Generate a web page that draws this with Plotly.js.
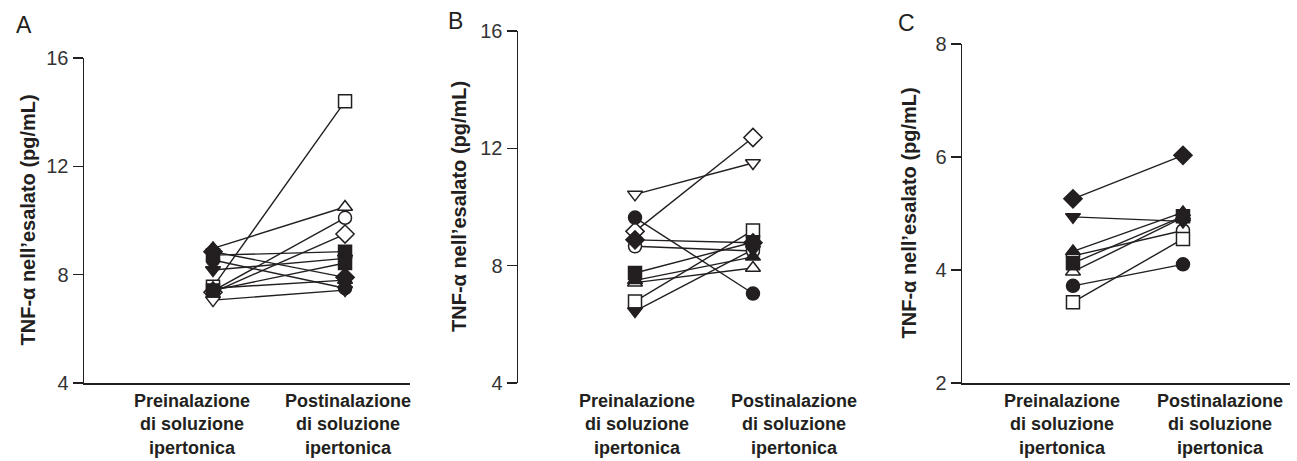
<!DOCTYPE html>
<html>
<head>
<meta charset="utf-8">
<script src="https://cdn.plot.ly/plotly-3.0.1.min.js"></script>
<style>
html,body{margin:0;padding:0;background:#fff;}
#chart{width:1297px;height:461px;}
</style>
</head>
<body>
<div id="chart"></div>
<script>
// ---- Data ----
const categories = ['Preinalazione<br>di soluzione<br>ipertonica', 'Postinalazione<br>di soluzione<br>ipertonica'];
const yTitle = 'TNF-α nell’esalato (pg/mL)';
const panelLetters = ['A', 'B', 'C'];

// Panel A
const symbolsA = ['square','triangle-up','circle','diamond','square','triangle-down','circle','triangle-up','diamond','triangle-down','square'];
const filledA  = [false, false, false, false, true, true, true, true, true, false, true];
const preA     = [7.55, 8.97, 7.40, 7.35, 8.72, 8.17, 8.54, 7.50, 8.85, 7.06, 7.42];
const postA    = [14.4, 10.5, 10.1, 9.5, 8.85, 8.6, 7.5, 7.8, 7.9, 7.43, 8.43];
const ticksA   = [4, 8, 12, 16];

// Panel B
const symbolsB = ['triangle-down','circle','diamond','diamond','circle','square','triangle-up','triangle-up','square','triangle-down'];
const filledB  = [false, true, false, true, false, true, true, false, false, true];
const preB     = [10.43, 9.64, 9.17, 8.88, 8.66, 7.75, 7.50, 7.42, 6.78, 6.45];
const postB    = [11.5, 7.05, 12.37, 8.78, 8.5, 8.8, 8.3, 7.92, 9.2, 8.55];
const ticksB   = [4, 8, 12, 16];

// Panel C
const symbolsC = ['diamond','triangle-down','triangle-up','square','triangle-up','circle','circle','square'];
const filledC  = [true, true, true, true, false, false, true, false];
const preC     = [5.26, 4.94, 4.33, 4.12, 3.97, 4.25, 3.72, 3.43];
const postC    = [6.03, 4.86, 5.02, 4.95, 4.93, 4.70, 4.10, 4.55];
const ticksC   = [2, 4, 6, 8];

// ---- Layout helpers ----
const W = 1297, H = 461;
const px = v => v / W;
const py = v => 1 - v / H;
const ink = '#231f20';
const FONT = 'Liberation Sans, Arial, Helvetica, sans-serif';

const panels = [
  {pre: preA, post: postA, sym: symbolsA, fill: filledA, ticks: ticksA,
   xdom: [84, 410], ytop: 58, xr: [-0.977, 1.492], showX: true,
   titleX: 28, letter: [24, 25], labelX: [192, 348]},
  {pre: preB, post: postB, sym: symbolsB, fill: filledB, ticks: ticksB,
   xdom: [518, 830], ytop: 31, xr: [-0.992, 1.653], showX: false,
   titleX: 459, letter: [455, 21], labelX: [637, 794]},
  {pre: preC, post: postC, sym: symbolsC, fill: filledC, ticks: ticksC,
   xdom: [962, 1290], ytop: 44, xr: [-1.009, 1.973], showX: true,
   titleX: 908, letter: [906, 23], labelX: [1062, 1220]}
];
const labelTop = 390;

const data = [];
const layout = {
  width: W, height: H, autosize: false,
  margin: {l: 0, r: 0, t: 0, b: 0},
  paper_bgcolor: '#fff', plot_bgcolor: '#fff',
  showlegend: false,
  font: {family: FONT, color: ink, size: 16},
  annotations: []
};

panels.forEach((p, i) => {
  const n = i === 0 ? '' : String(i + 1);
  const xa = 'x' + n, ya = 'y' + n;
  const xs = [0, 1];
  p.pre.forEach((v, k) => {
    data.push({x: xs, y: [p.pre[k], p.post[k]], xaxis: xa, yaxis: ya,
      mode: 'lines', line: {color: ink, width: 1.4}, hoverinfo: 'skip'});
  });
  const order = p.pre.map((v, k) => k).sort((a, b) => (p.fill[a] ? 1 : 0) - (p.fill[b] ? 1 : 0));
  order.forEach(k => {
    data.push({x: xs, y: [p.pre[k], p.post[k]], xaxis: xa, yaxis: ya,
      mode: 'markers',
      marker: {symbol: p.sym[k], size: p.sym[k] === 'diamond' ? 14 : 13,
               color: p.fill[k] ? ink : '#ffffff',
               line: {color: ink, width: 1.5}}});
  });
  const lo = p.ticks[0], hi = p.ticks[p.ticks.length - 1];
  layout['xaxis' + n] = {
    domain: [px(p.xdom[0]), px(p.xdom[1])], anchor: ya,
    range: p.xr, tickvals: [0, 1], ticktext: ['', ''], showticklabels: false,
    showline: p.showX, linecolor: ink, linewidth: 1.5,
    ticks: '', showgrid: false, zeroline: false, fixedrange: true
  };
  layout['yaxis' + n] = {
    domain: [py(383), py(p.ytop)], anchor: xa,
    range: [lo, hi], tickvals: p.ticks,
    showline: true, linecolor: ink, linewidth: 1.5,
    ticks: 'outside', ticklen: 10, tickwidth: 1.3, tickcolor: ink,
    showgrid: false, zeroline: false, fixedrange: true,
    tickfont: {family: FONT, size: 20, color: '#333333'}
  };
  categories.forEach((c, ci) => {
    layout.annotations.push({
      xref: 'paper', yref: 'paper', x: px(p.labelX[ci]), y: py(labelTop),
      xanchor: 'center', yanchor: 'top', showarrow: false, align: 'center',
      borderpad: 0,
      text: c, font: {family: FONT, size: 18, color: ink, weight: 'bold'}
    });
  });
  layout.annotations.push({
    xref: 'paper', yref: 'paper', x: px(p.titleX), y: py((383 + p.ytop) / 2),
    xanchor: 'center', yanchor: 'middle', textangle: -90, showarrow: false,
    text: yTitle, font: {family: FONT, size: 20, color: ink, weight: 'bold'}
  });
  layout.annotations.push({
    xref: 'paper', yref: 'paper', x: px(p.letter[0]), y: py(p.letter[1]),
    xanchor: 'center', yanchor: 'middle', showarrow: false,
    text: panelLetters[i], font: {family: FONT, size: 23, color: ink}
  });
});

Plotly.newPlot('chart', data, layout, {displayModeBar: false, staticPlot: true});
</script>
</body>
</html>
